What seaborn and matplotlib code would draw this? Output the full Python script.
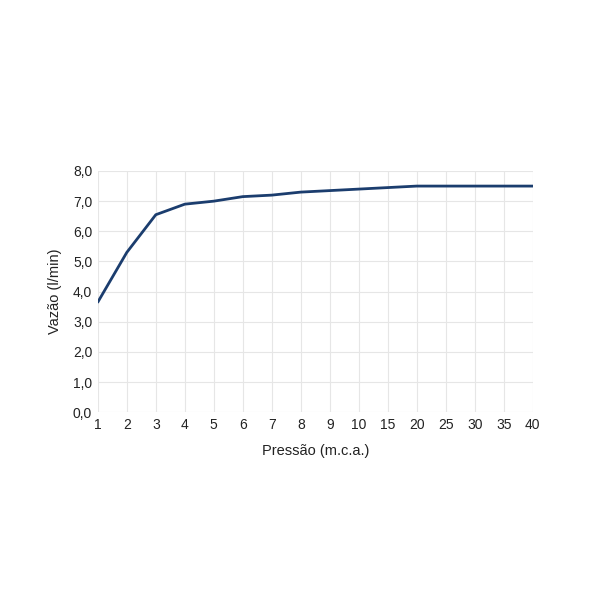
import matplotlib
matplotlib.use("Agg")
import matplotlib.pyplot as plt
import seaborn as sns
import pandas as pd

pressao = ["1", "2", "3", "4", "5", "6", "7", "8", "9", "10",
           "15", "20", "25", "30", "35", "40"]
vazao = [3.65, 5.3, 6.55, 6.9, 7.0, 7.15, 7.2, 7.3, 7.35, 7.4,
         7.45, 7.5, 7.5, 7.5, 7.5, 7.5]

sns.set_theme(style="whitegrid")
plt.rcParams['font.family'] = ['Liberation Sans', 'DejaVu Sans']

df = pd.DataFrame({"pressao": pressao, "vazao": vazao})
df["pos"] = range(len(df))

fig = plt.figure(figsize=(6, 6), dpi=100, facecolor='white')
ax = fig.add_axes([0.163, 0.313, 0.725, 0.402])
sns.lineplot(data=df, x="pos", y="vazao", ax=ax, color="#1b3d6e", linewidth=2.0)

ax.set_xlim(0, len(pressao) - 1)
ax.set_ylim(0, 8)
ax.set_xticks(range(len(pressao)))
ax.set_xticklabels(pressao, fontsize=10, color="#222222")
yt = [i for i in range(9)]
ax.set_yticks(yt)
ax.set_yticklabels([f"{v:.1f}".replace(".", ",") for v in yt], fontsize=10, color="#222222")
ax.grid(True, color="#e6e6e6", linewidth=0.8)
for side in ['bottom', 'right', 'top', 'left']:
    ax.spines[side].set_visible(False)
ax.tick_params(axis='both', length=0, pad=4)
ax.set_xlabel("Pressão (m.c.a.)", fontsize=10.5, color="#222222", labelpad=9)
ax.set_ylabel("Vazão (l/min)", fontsize=10.5, color="#222222", labelpad=8)

plt.savefig("out.png", dpi=100, facecolor='white')
plt.close(fig)
